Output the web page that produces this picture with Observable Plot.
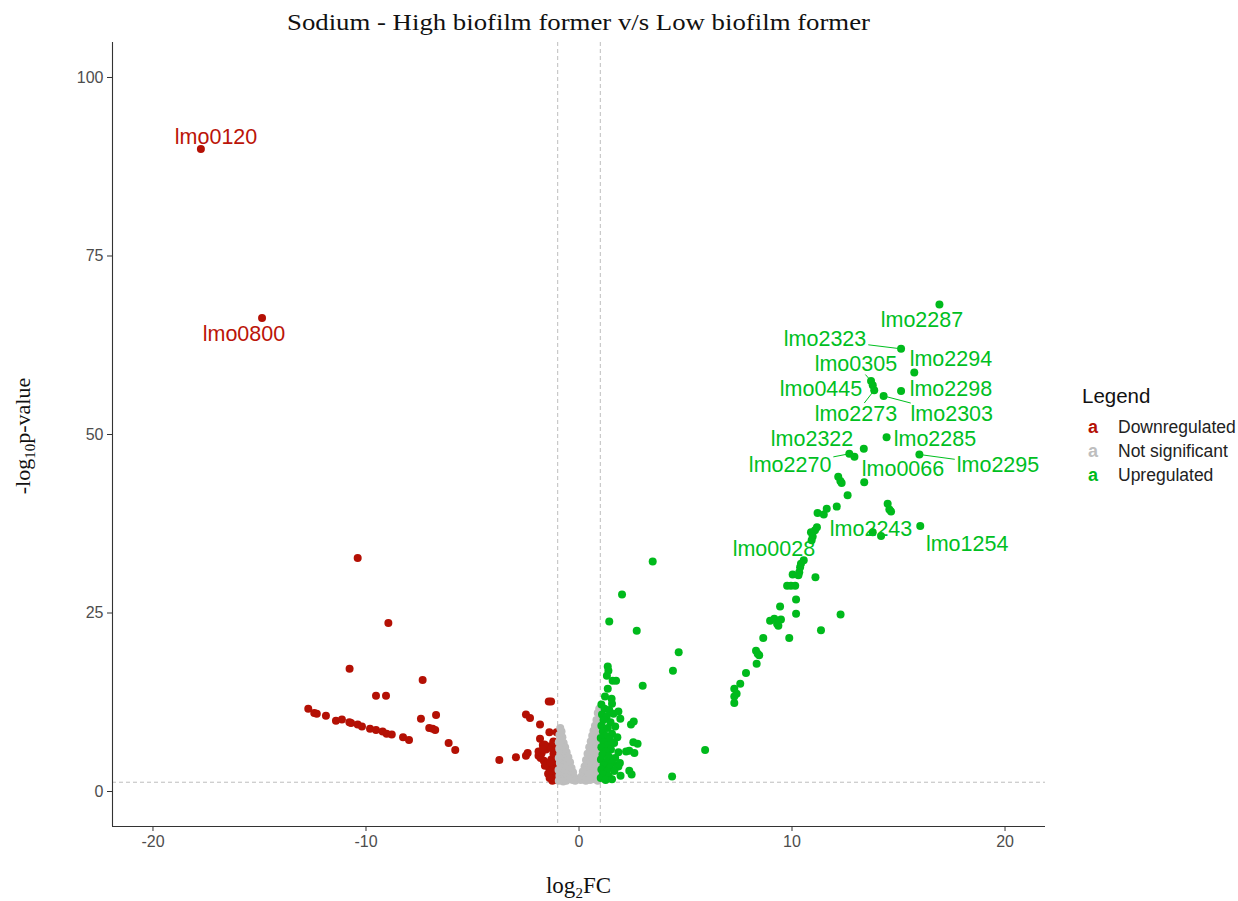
<!DOCTYPE html>
<html><head><meta charset="utf-8">
<script src="https://cdn.jsdelivr.net/npm/d3@7"></script>
<script src="https://cdn.jsdelivr.net/npm/@observablehq/plot@0.6"></script>
<style>body{margin:0;background:#fff} svg{display:block}</style>
</head><body><div id="chart"></div>
<script>
const title = "Sodium - High biofilm former v/s Low biofilm former";
const legendTitle = "Legend";
const categories = ["Downregulated", "Not significant", "Upregulated"];
const colors = ["#B41004", "#BEBEBE", "#00BA1C"];
const xTicks = [-20, -10, 0, 10, 20];
const yTicks = [0, 25, 50, 75, 100];
const fcCutoff = 1;
const pCutoff = 0.05;

const downregulated = [
  [-17.75,90.0],[-14.88,66.3],[-10.39,32.7],[-8.95,23.6],[-10.77,17.2],[-7.34,15.6],[-9.53,13.4],[-9.06,13.4],
  [-12.71,11.6],[-12.43,11.0],[-12.31,10.9],[-11.88,10.6],[-11.41,9.9],[-11.13,10.1],[-10.78,9.7],[-10.70,9.6],
  [-10.39,9.4],[-10.19,9.1],[-9.81,8.8],[-9.53,8.6],[-9.22,8.4],[-9.03,8.1],[-8.79,8.0],[-8.26,7.6],[-7.98,7.2],
  [-7.42,10.2],[-6.71,10.7],[-7.03,8.9],[-6.87,8.8],[-6.75,8.6],[-6.12,6.8],[-5.81,5.8],[-3.74,4.4],
  [-2.96,4.8],[-2.49,5.0],[-2.41,5.4],[-1.42,12.6],[-1.31,12.6],[-2.49,10.8],[-2.30,10.3],[-1.83,9.4],
  [-1.39,8.3],[-1.05,8.3],[-1.83,7.4],[-1.20,7.0],[-1.70,6.5],[-1.42,6.3],
  [-1.05,1.6],[-1.10,2.0],[-1.20,2.3],[-1.05,2.7],[-1.30,2.9],[-1.15,3.2],[-1.40,3.3],[-1.05,3.6],[-1.25,3.8],
  [-1.50,3.9],[-1.10,4.2],[-1.65,4.3],[-1.30,4.5],[-1.80,4.7],[-1.05,4.9],[-1.90,5.0],[-1.20,5.3],[-1.75,5.4],
  [-1.08,5.7],[-1.55,5.9],[-1.30,6.1],[-1.05,6.4],[-1.62,6.6],[-1.20,6.9],[-1.45,2.5],[-1.60,3.6],[-1.15,1.9],
  [-1.35,4.1],[-1.00,2.2],[-1.25,1.5],[-1.38,1.9],[-1.90,5.6],[-1.70,5.9]
];

const notSignificant = [
  [-0.88,8.9],[-0.82,8.4],[-0.92,7.9],[-0.78,7.6],[-0.86,7.2],[-0.95,6.9],[-0.72,6.8],[-0.84,6.5],[-0.65,6.2],
  [-0.93,6.0],[-0.76,5.7],[-0.58,5.5],[-0.88,5.3],[-0.68,5.0],[-0.50,4.8],[-0.95,4.7],[-0.80,4.5],[-0.60,4.3],
  [-0.42,4.1],[-0.90,4.0],[-0.72,3.8],[-0.52,3.6],[-0.35,3.3],[-0.85,3.4],[-0.64,3.1],[-0.96,3.0],[-0.45,2.9],
  [-0.28,2.7],[-0.78,2.6],[-0.55,2.4],[-0.38,2.2],[-0.92,2.2],[-0.66,2.0],[-0.22,2.0],[-0.48,1.8],[-0.84,1.7],
  [-0.30,1.6],[-0.60,1.5],[-0.18,1.5],[-0.74,1.4],[-0.95,1.5],
  [0.95,11.6],[0.88,11.0],[0.98,10.4],[0.82,10.0],[0.93,9.6],[0.75,9.2],[0.97,8.8],[0.68,8.5],[0.86,8.2],
  [0.62,7.8],[0.95,7.6],[0.76,7.3],[0.55,7.0],[0.90,6.8],[0.66,6.5],[0.48,6.2],[0.98,6.1],[0.80,5.9],
  [0.58,5.6],[0.40,5.3],[0.92,5.2],[0.70,5.0],[0.50,4.7],[0.33,4.4],[0.85,4.5],[0.62,4.2],[0.96,4.0],
  [0.42,3.8],[0.26,3.5],[0.75,3.6],[0.55,3.3],[0.90,3.2],[0.35,3.0],[0.18,2.8],[0.68,2.8],[0.48,2.5],
  [0.82,2.4],[0.28,2.3],[0.12,2.1],[0.60,2.1],[0.96,2.0],[0.40,1.9],[0.20,1.7],[0.75,1.7],[0.52,1.6],
  [0.08,1.6],[0.32,1.5],[0.88,1.5]
];

const upregulated = [
  [1.05,12.2],[1.20,11.6],[1.42,11.4],[1.08,10.8],[1.30,10.5],[1.62,10.9],[1.15,10.0],[1.48,9.7],[1.05,9.2],
  [1.35,8.9],[1.70,9.1],[1.12,8.4],[1.55,8.1],[1.25,7.8],[1.02,7.5],[1.45,7.3],[1.80,7.6],[1.15,6.9],[1.35,6.5],
  [1.65,6.8],[1.05,6.2],[1.50,5.9],[1.25,5.6],[1.85,5.5],[1.10,5.2],[1.40,4.9],[1.70,4.7],[1.03,4.5],[1.30,4.2],
  [1.55,4.0],[1.15,3.7],[1.45,3.4],[1.05,3.1],[1.30,2.8],[1.65,2.9],[1.12,2.4],[1.40,2.1],[1.02,1.9],[1.25,1.6],
  [1.55,1.7],[1.80,3.6],[1.95,2.2],
  [1.35,17.5],[1.38,16.9],[1.31,16.2],[1.58,15.5],[1.74,15.5],[1.35,14.4],[1.22,13.3],[1.53,13.0],[1.55,12.3],
  [1.85,11.2],[1.94,10.2],[2.44,9.4],[2.57,9.8],[2.55,6.9],[2.75,6.7],[2.21,5.6],[2.36,5.7],[2.60,5.4],
  [2.36,2.9],[2.47,2.4],[1.92,4.0],[1.85,3.5],[1.66,2.9],[2.02,27.6],[1.42,23.8],[2.71,22.5],[4.68,19.5],
  [4.41,16.9],[2.99,14.8],[3.46,32.2],[5.92,5.8],[4.37,2.1],
  [12.10,39.9],[11.20,39.0],[11.49,38.8],[11.63,39.6],[11.17,37.0],[11.08,36.6],[10.89,36.3],[10.97,35.7],
  [10.92,35.2],[13.79,36.3],[14.18,35.8],[10.55,32.4],[10.42,31.9],[10.38,31.4],[10.34,30.7],[10.30,30.3],
  [10.03,30.4],[11.10,30.0],[9.77,28.8],[9.95,28.8],[10.15,28.8],[10.19,26.9],[9.44,25.9],[10.19,24.9],
  [12.28,24.8],[8.97,23.9],[9.17,24.2],[9.30,23.5],[9.48,24.1],[9.36,23.2],[11.36,22.6],[9.87,21.5],[8.65,21.5],
  [8.31,19.7],[8.39,19.3],[8.46,19.1],[8.34,17.9],[7.84,16.6],[7.57,15.1],[7.29,14.4],[7.40,13.7],[7.29,13.3],
  [7.29,12.4],
  [16.92,68.2],[15.12,62.0],[15.74,58.7],[13.71,57.5],[13.79,56.9],[13.86,56.2],[15.12,56.1],[14.30,55.4],
  [14.44,49.6],[13.37,48.0],[12.69,47.3],[12.93,46.9],[15.98,47.2],[13.39,43.3],[12.17,44.1],[12.27,43.5],
  [12.33,43.2],[12.61,41.5],[14.49,40.3],[14.57,39.5],[14.65,39.2],[16.02,37.2]
];

// labelled genes: point position, label position (data units), whether a leader segment is drawn
const labelGenes  = ["lmo0120","lmo0800","lmo2287","lmo2323","lmo2294","lmo0305","lmo0445","lmo2298","lmo2273","lmo2303","lmo2322","lmo2285","lmo2270","lmo0066","lmo2295","lmo2243","lmo1254","lmo0028"];
const labelGroup  = [0,0,2,2,2,2,2,2,2,2,2,2,2,2,2,2,2,2];
const labelPointX = [-17.75,-14.88,16.92,15.12,15.74,13.71,13.79,15.12,13.86,14.30,13.37,14.44,12.69,13.39,15.98,13.79,16.02,10.92];
const labelPointY = [90.0,66.3,68.2,62.0,58.7,57.5,56.9,56.1,56.2,55.4,48.0,49.6,47.3,43.3,47.2,36.3,37.2,35.2];
const labelTextX  = [-17.04,-15.73,16.10,11.55,17.46,13.0,11.36,17.46,13.0,17.5,10.94,16.71,9.91,15.21,19.67,13.71,18.22,9.15];
const labelTextY  = [91.6,64.1,66.0,63.3,60.6,59.9,56.4,56.3,52.9,52.9,49.3,49.3,45.7,45.1,45.7,36.8,34.7,33.9];
const labelSegment= [0,0,0,1,0,1,0,0,1,1,0,0,1,0,1,0,0,0];

const W = 1238, H = 901;
const M = {top: 42, right: 193, bottom: 75, left: 112};
const xDomain = [-21.9, 21.9], yDomain = [-4.9, 104.9];
const labelColors = ["#BB1408", "#BEBEBE", "#00BF1F"];
const labelFont = 21.5;

const points = [downregulated, notSignificant, upregulated].flatMap((arr, i) =>
  arr.map(([x, y]) => ({x, y, cat: categories[i]})));

const labels = labelGenes.map((g, i) => ({
  gene: g, px: labelPointX[i], py: labelPointY[i], tx: labelTextX[i], ty: labelTextY[i],
  seg: labelSegment[i], color: labelColors[labelGroup[i]]
}));

// leader segments stop at the label box edge
const sx = d3.scaleLinear(xDomain, [M.left, W - M.right]);
const sy = d3.scaleLinear(yDomain, [H - M.bottom, M.top]);
const ctx = document.createElement("canvas").getContext("2d");
ctx.font = `${labelFont}px "Liberation Sans"`;
const segments = labels.filter(d => d.seg).map(d => {
  const P = [sx(d.px), sy(d.py)], C = [sx(d.tx), sy(d.ty)];
  const hw = ctx.measureText(d.gene).width / 2 + 2, hh = labelFont * 0.5;
  const dx = P[0] - C[0], dy = P[1] - C[1];
  const t = Math.min(dx ? hw / Math.abs(dx) : Infinity, dy ? hh / Math.abs(dy) : Infinity);
  const E = [C[0] + dx * t, C[1] + dy * t];
  return {x1: d.px, y1: d.py, x2: sx.invert(E[0]), y2: sy.invert(E[1]), color: d.color};
});

const plot = Plot.plot({
  width: W, height: H,
  marginTop: M.top, marginRight: M.right, marginBottom: M.bottom, marginLeft: M.left,
  style: {fontFamily: "'Liberation Sans', Arial, sans-serif", background: "white", overflow: "visible"},
  x: {domain: xDomain},
  y: {domain: yDomain},
  color: {domain: categories, range: colors},
  marks: [
    Plot.ruleX([-fcCutoff, fcCutoff], {stroke: "#BDBDBD", strokeDasharray: "4,3", strokeWidth: 1}),
    Plot.ruleY([-Math.log10(pCutoff)], {stroke: "#BDBDBD", strokeDasharray: "4,3", strokeWidth: 1}),
    Plot.dot(points, {x: "x", y: "y", fill: "cat", r: 4}),
    Plot.link(segments, {x1: "x1", y1: "y1", x2: "x2", y2: "y2", stroke: d => d.color, strokeWidth: 1}),
    Plot.text(labels, {x: "tx", y: "ty", text: "gene", fill: d => d.color, fontSize: labelFont, textAnchor: "middle", lineAnchor: "middle"}),
    Plot.ruleX([xDomain[0]], {stroke: "#333333", strokeWidth: 1.1}),
    Plot.ruleY([yDomain[0]], {stroke: "#333333", strokeWidth: 1.1}),
    Plot.axisX({ticks: xTicks, tickFormat: d => String(d), tickSize: 5, tickPadding: 4, fontSize: 16, stroke: "#333333", fill: "#4D4D4D", label: null}),
    Plot.axisY({ticks: yTicks, tickFormat: d => String(d), tickSize: 5, tickPadding: 4, fontSize: 16, stroke: "#333333", fill: "#4D4D4D", label: null})
  ]
});

const svg = d3.select(plot);
// title
svg.append("text").attr("x", (M.left + W - M.right) / 2).attr("y", 30)
  .attr("text-anchor", "middle").attr("font-family", "'Liberation Serif', 'Times New Roman', serif")
  .attr("font-size", 24).attr("fill", "#111").attr("textLength", 583).attr("lengthAdjust", "spacingAndGlyphs")
  .text(title);
// x axis title
const xt = svg.append("text").attr("x", (M.left + W - M.right) / 2).attr("y", 893)
  .attr("text-anchor", "middle").attr("font-family", "'Liberation Serif', 'Times New Roman', serif")
  .attr("font-size", 23).attr("fill", "#111");
xt.append("tspan").text("log");
xt.append("tspan").attr("font-size", 15).attr("dy", 5).text("2");
xt.append("tspan").attr("dy", -5).text("FC");
// y axis title
const yt = svg.append("text").attr("transform", `translate(30,${(M.top + H - M.bottom) / 2 + 2}) rotate(-90)`)
  .attr("text-anchor", "middle").attr("font-family", "'Liberation Serif', 'Times New Roman', serif")
  .attr("font-size", 22).attr("fill", "#111");
yt.append("tspan").text("-log");
yt.append("tspan").attr("font-size", 15).attr("dy", 5).text("10");
yt.append("tspan").attr("dy", -5).text("p-value");
// legend
const lg = svg.append("g").attr("font-family", "'Liberation Sans', Arial, sans-serif").attr("text-anchor", "start");
lg.append("text").attr("x", 1082).attr("y", 403).attr("text-anchor", "start")
  .attr("font-size", 20.5).attr("fill", "#111").text(legendTitle);
categories.forEach((c, i) => {
  const y = 433 + i * 24;
  lg.append("text").attr("x", 1093).attr("y", y).attr("text-anchor", "middle")
    .attr("font-size", 18).attr("font-weight", "bold").attr("fill", colors[i]).text("a");
  lg.append("text").attr("x", 1118).attr("y", y).attr("text-anchor", "start")
    .attr("font-size", 17.5).attr("fill", "#222").text(c);
});

document.getElementById("chart").appendChild(plot);
</script>
</body></html>
